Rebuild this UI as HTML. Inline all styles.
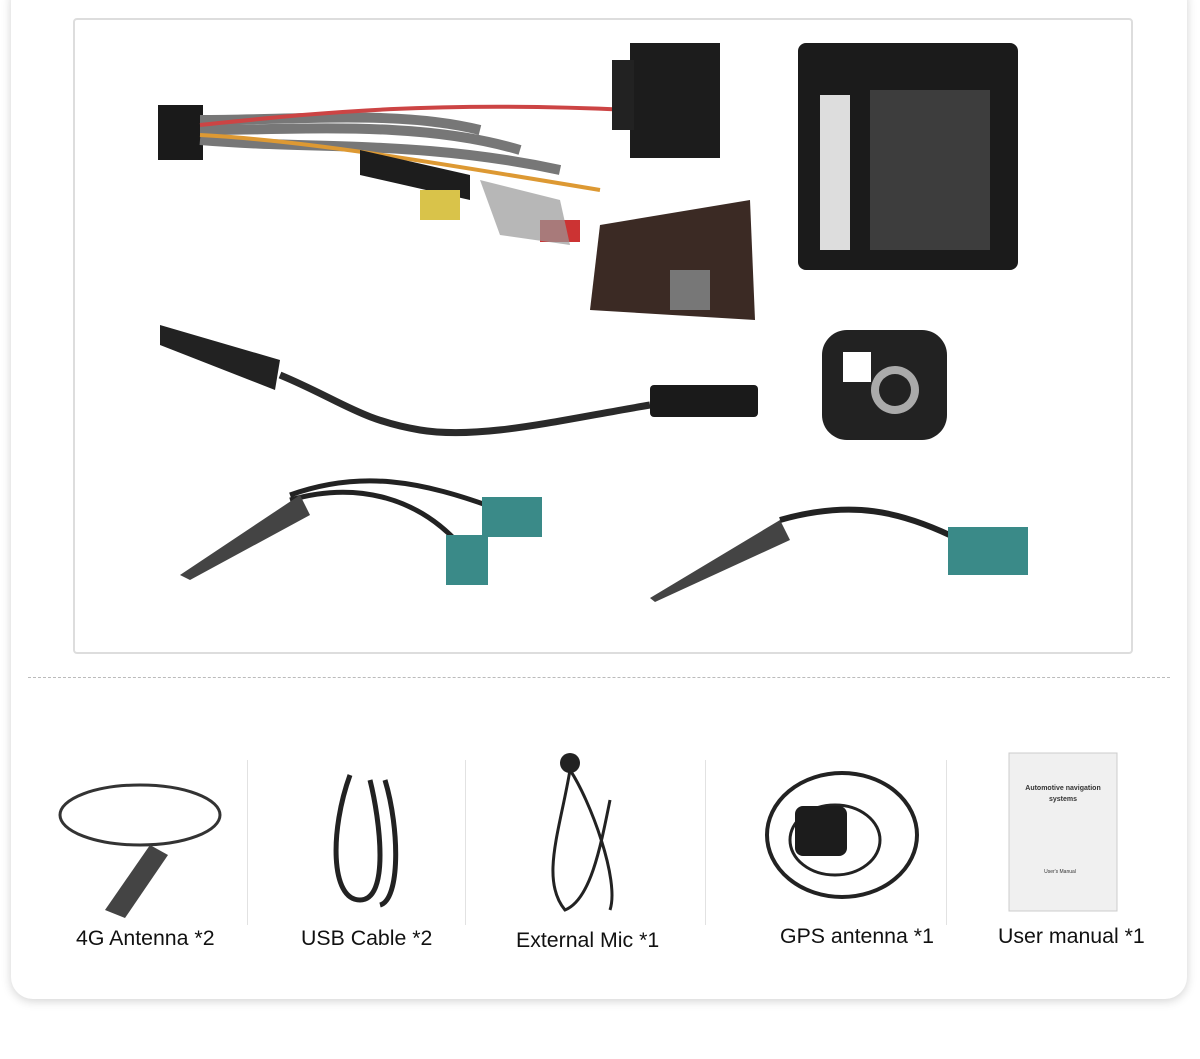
<!DOCTYPE html>
<html><head><meta charset="utf-8"><style>
body{margin:0;width:1200px;height:1059px;background:#fff;position:relative;overflow:hidden;font-family:"Liberation Sans",sans-serif}
.card{position:absolute;left:11px;top:-20px;width:1176px;height:1019px;border-radius:22px;background:#fff;box-shadow:0 2px 10px rgba(0,0,0,.18)}
.box{position:absolute;left:73px;top:18px;width:1056px;height:632px;border:2px solid #ddd;border-radius:4px}
.dash{position:absolute;left:28px;top:677px;width:1142px;border-top:1px dashed #bbb}
.sep{position:absolute;top:760px;width:1px;height:165px;background:#e2e2e2}
.lbl{position:absolute;font-size:21.3px;color:#111}
</style></head><body>
<div class="card"></div>
<div class="box"></div>
<svg style="position:absolute;left:0;top:0" width="1200" height="1059">
<rect x="158" y="105" width="45" height="55" fill="#1a1a1a"/>
<path d="M200 120 C300 120 400 110 480 130 M200 130 C300 130 420 120 520 150 M200 140 C320 150 420 140 560 170" stroke="#777" stroke-width="10" fill="none"/>
<path d="M200 125 C300 115 420 100 630 110" stroke="#c44" stroke-width="4" fill="none"/>
<path d="M200 135 C300 140 420 160 600 190" stroke="#d93" stroke-width="4" fill="none"/>
<rect x="630" y="43" width="90" height="115" fill="#1c1c1c"/>
<rect x="612" y="60" width="22" height="70" fill="#222"/>
<path d="M360 150 L470 175 L470 200 L360 175Z" fill="#1d1d1d"/>
<rect x="420" y="190" width="40" height="30" fill="#d9c34a"/>
<rect x="540" y="220" width="40" height="22" fill="#c33"/>
<path d="M600 225 L750 200 L755 320 L590 310Z" fill="#3b2a24"/>
<rect x="670" y="270" width="40" height="40" fill="#777"/>
<path d="M480 180 L560 200 L570 245 L500 235Z" fill="#999" opacity=".7"/>
<rect x="798" y="43" width="220" height="227" rx="8" fill="#1b1b1b"/>
<rect x="820" y="95" width="30" height="155" fill="#ddd"/>
<g fill="#555"><rect x="870" y="90" width="120" height="160" opacity=".6"/></g>
<path d="M160 325 L280 360 L275 390 L160 345Z" fill="#222"/>
<path d="M280 375 C340 400 360 420 420 430 C480 440 560 420 650 405" stroke="#2a2a2a" stroke-width="7" fill="none"/>
<rect x="650" y="385" width="108" height="32" rx="4" fill="#1a1a1a"/>
<rect x="822" y="330" width="125" height="110" rx="25" fill="#222"/>
<circle cx="895" cy="390" r="24" fill="#aaa"/><circle cx="895" cy="390" r="16" fill="#222"/>
<rect x="843" y="352" width="28" height="30" fill="#fff"/>
<path d="M290 495 C360 470 420 480 500 510 M290 500 C360 480 420 500 460 545" stroke="#222" stroke-width="5" fill="none"/>
<path d="M180 575 L300 495 L310 515 L190 580Z" fill="#444"/>
<rect x="482" y="497" width="60" height="40" fill="#3a8a88"/>
<rect x="446" y="535" width="42" height="50" fill="#3a8a88"/>
<path d="M650 598 L780 520 L790 540 L655 602Z" fill="#444"/>
<path d="M780 520 C850 500 900 510 960 540" stroke="#222" stroke-width="6" fill="none"/>
<rect x="948" y="527" width="80" height="48" fill="#3a8a88"/>
<ellipse cx="140" cy="815" rx="80" ry="30" fill="none" stroke="#333" stroke-width="3"/>
<path d="M105 910 L150 845 L168 855 L125 918Z" fill="#444"/>
<path d="M350 775 C330 830 330 900 360 900 C390 900 380 820 370 780" stroke="#222" stroke-width="5" fill="none"/>
<path d="M385 780 C400 830 400 900 380 905" stroke="#222" stroke-width="5" fill="none"/>
<circle cx="570" cy="763" r="10" fill="#222"/>
<path d="M570 770 C560 830 540 880 565 910 C590 900 600 850 610 800 M570 770 C590 800 620 880 610 910" stroke="#222" stroke-width="3" fill="none"/>
<ellipse cx="842" cy="835" rx="75" ry="62" fill="none" stroke="#222" stroke-width="4"/>
<ellipse cx="835" cy="840" rx="45" ry="35" fill="none" stroke="#222" stroke-width="3"/>
<rect x="795" y="806" width="52" height="50" rx="8" fill="#1c1c1c"/>
<rect x="1009" y="753" width="108" height="158" fill="#f0f0f0" stroke="#ccc"/>
<text x="1063" y="790" font-size="7" text-anchor="middle" font-family="Liberation Sans" font-weight="bold" fill="#333">Automotive navigation</text>
<text x="1063" y="801" font-size="7" text-anchor="middle" font-family="Liberation Sans" font-weight="bold" fill="#333">systems</text>
<text x="1060" y="873" font-size="5" text-anchor="middle" font-family="Liberation Sans" fill="#333">User's Manual</text>
</svg>
<div class="dash"></div>
<div class="sep" style="left:247px"></div>
<div class="sep" style="left:465px"></div>
<div class="sep" style="left:705px"></div>
<div class="sep" style="left:946px"></div>
<div class="lbl" style="left:76px;top:926px">4G Antenna *2</div>
<div class="lbl" style="left:301px;top:926px">USB Cable *2</div>
<div class="lbl" style="left:516px;top:928px">External Mic *1</div>
<div class="lbl" style="left:780px;top:924px">GPS antenna *1</div>
<div class="lbl" style="left:998px;top:924px">User manual *1</div>
</body></html>
